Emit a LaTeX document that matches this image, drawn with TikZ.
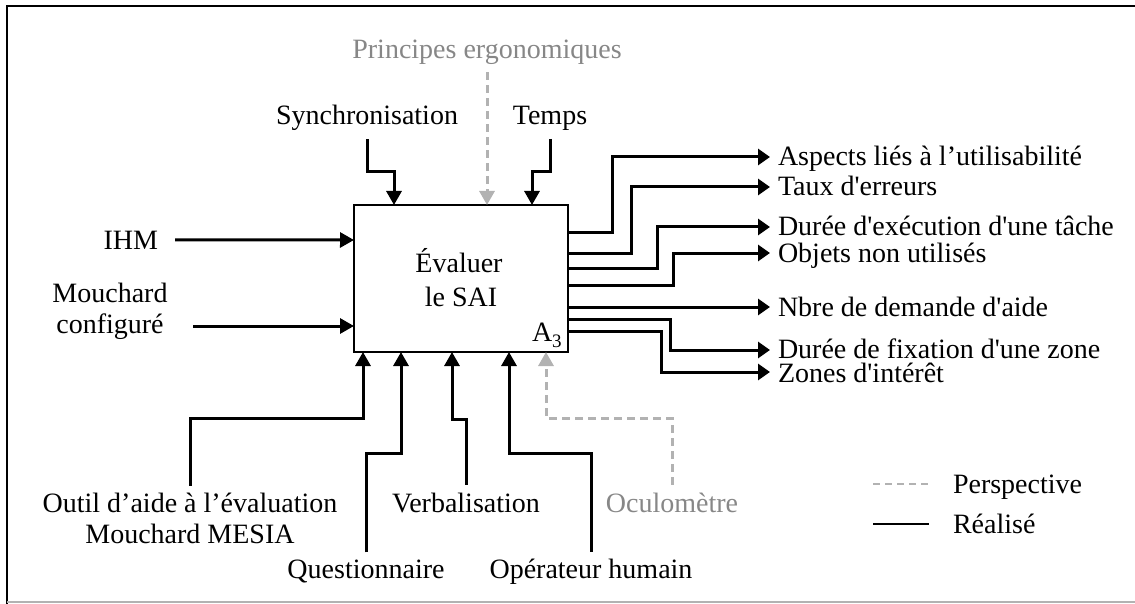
\documentclass[tikz,border=0pt]{standalone}
\usepackage{fontspec}
\newfontfamily\figfont{Liberation Serif}
\usetikzlibrary{arrows.meta}
\definecolor{ptext}{RGB}{135,135,135}
\definecolor{pline}{RGB}{178,178,178}
\newcommand\figsize{\fontsize{28pt}{32pt}\selectfont}
\tikzset{
  lbl/.style={inner sep=0pt, outer sep=0pt, font=\figfont\figsize, anchor=base},
  conn/.style={line width=3pt, -{Triangle[length=14pt,width=15pt]}},
  oconn/.style={line width=3pt, -{Triangle[length=12pt,width=16pt]}},
  pconn/.style={line width=3pt, draw=pline, dash pattern=on 8pt off 5pt, -{Triangle[length=14pt,width=15pt]}},
}
\begin{document}
\begin{tikzpicture}[x=1pt,y=-1pt]
\useasboundingbox (0,0) rectangle (1135,604);
% frame
\draw[line width=2.4pt] (7,604) -- (7,6) -- (1135,6);
\draw[line width=2pt, draw=pline] (7,602) -- (1135,602);

% main box
\node[draw, line width=2pt, minimum width=214pt, minimum height=147pt, inner sep=0pt, outer sep=0pt, anchor=north west] (box) at (354,205) {};
\node[lbl] (t1) at (459,272) {Évaluer};
\node[lbl] (t2) at (461,306) {le SAI};
\node[lbl, anchor=base west] (a3) at (532,341) {A\raisebox{-6pt}{\fontsize{19pt}{19pt}\selectfont 3}};

% top controls
\node[lbl, text=ptext] (princ) at (487,59) {Principes ergonomiques};
\node[lbl] (sync) at (367,125) {Synchronisation};
\node[lbl] (temps) at (550,125) {Temps};
\draw[conn] ([yshift=-8pt]sync.south) |- (394,172) -- (394,205);
\draw[pconn] ([yshift=-7pt]princ.south) -- (487,205);
\draw[conn] ([yshift=-8pt]temps.south) |- (532,172) -- (532,205);

% left inputs
\node[lbl, anchor=base east] (ihm) at (158,249) {IHM};
\node[lbl] (mouch1) at (110,302) {Mouchard};
\node[lbl] (mouch2) at (110,333) {configuré};
\coordinate (mc) at (193,326);
\draw[conn] ([xshift=17pt]ihm.east) -- (354,240);
\draw[conn] (mc) -- (354,326);

% bottom mechanisms
\node[lbl] (outil1) at (190,512) {Outil d’aide à l’évaluation};
\node[lbl] (outil2) at (190,543) {Mouchard MESIA};
\node[lbl] (quest) at (366,578) {Questionnaire};
\node[lbl] (verb) at (466,512) {Verbalisation};
\node[lbl] (oper) at (591,578) {Opérateur humain};
\node[lbl, text=ptext] (ocul) at (672,512) {Oculomètre};
\draw[conn] ([yshift=7pt]outil1.north) |- (363,418) -- (363,352);
\draw[conn] ([yshift=7pt]quest.north) |- (401,453) -- (401,352);
\draw[conn] ([yshift=8pt]verb.north) |- (452,419) -- (452,352);
\draw[conn] ([yshift=7pt]oper.north) |- (509,453) -- (509,352);
\draw[pconn] ([yshift=8pt]ocul.north) |- (546,418) -- (546,352);

% right outputs
\node[lbl, anchor=base west] (o1) at (778,166) {Aspects liés à l’utilisabilité};
\node[lbl, anchor=base west] (o2) at (778,196) {Taux d'erreurs};
\node[lbl, anchor=base west] (o3) at (778,236) {Durée d'exécution d'une tâche};
\node[lbl, anchor=base west] (o4) at (778,262) {Objets non utilisés};
\node[lbl, anchor=base west] (o5) at (778,316) {Nbre de demande d'aide};
\node[lbl, anchor=base west] (o6) at (778,358) {Durée de fixation d'une zone};
\node[lbl, anchor=base west] (o7) at (778,382) {Zones d'intérêt};
\draw[oconn] (568,233) -| (612,157) -- (770,157);
\draw[oconn] (568,253) -| (631,187) -- (770,187);
\draw[oconn] (568,268) -| (657,227) -- (770,227);
\draw[oconn] (568,285) -| (673,253) -- (770,253);
\draw[oconn] (568,307) -- (770,307);
\draw[oconn] (568,319) -| (670,350) -- (770,350);
\draw[oconn] (568,331) -| (661,372) -- (770,372);

% legend
\coordinate (lp1) at (873,484);
\coordinate (lp2) at (929,484);
\coordinate (lr1) at (873,524);
\coordinate (lr2) at (929,524);
\draw[line width=2.8pt, draw=pline, dash pattern=on 7pt off 5pt] (lp1) -- (lp2);
\draw[line width=2pt] (lr1) -- (lr2);
\node[lbl, anchor=base west] (lpt) at (953,493) {Perspective};
\node[lbl, anchor=base west] (lrt) at (953,533) {Réalisé};
\end{tikzpicture}
\end{document}
